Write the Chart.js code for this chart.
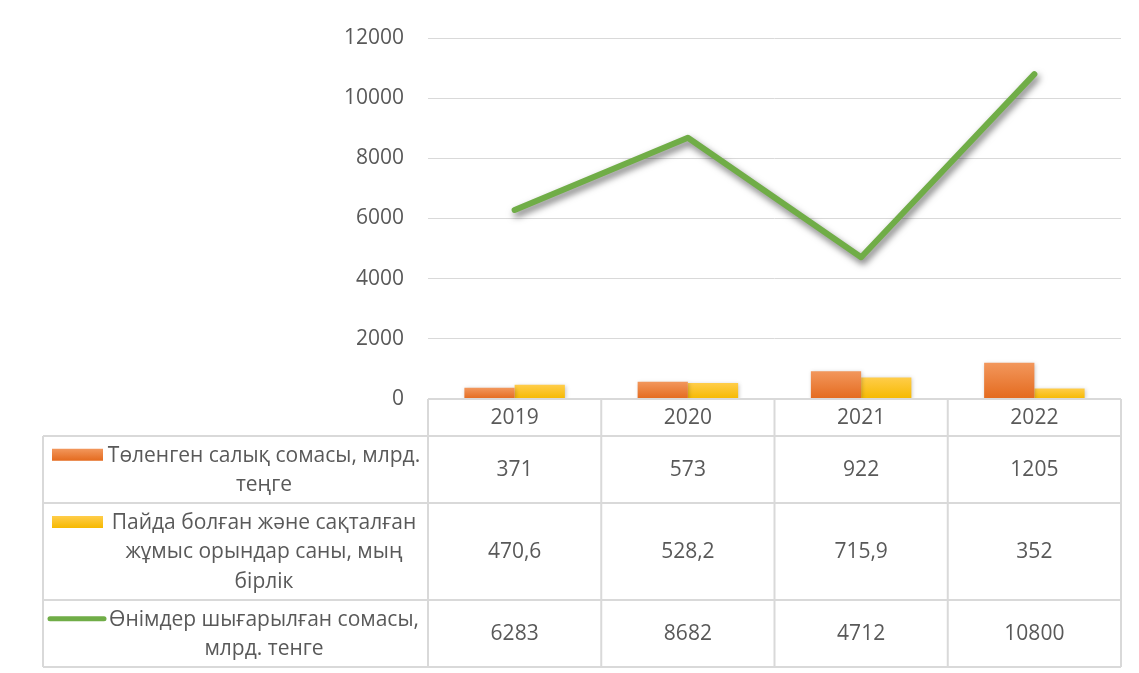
<!DOCTYPE html>
<html>
<head>
<meta charset="utf-8">
<script src="https://cdn.jsdelivr.net/npm/chart.js@4.4.1/dist/chart.umd.min.js"></script>
<style>
  html, body { margin: 0; padding: 0; background: #fff; }
  #wrap { width: 1139px; height: 673px; }
</style>
</head>
<body>
<div id="wrap"><canvas id="myChart" width="1139" height="673"></canvas></div>
<script>
// Chart data
const years = ['2019', '2020', '2021', '2022'];
const taxPaid = [371, 573, 922, 1205];
const jobsCreated = [470.6, 528.2, 715.9, 352];
const outputSum = [6283, 8682, 4712, 10800];
const seriesNames = [
    ['Төленген салық сомасы, млрд.', 'теңге'],
    ['Пайда болған және сақталған', 'жұмыс орындар саны, мың', 'бірлік'],
    ['Өнімдер шығарылған сомасы,', 'млрд. тенге']
];
const yTicks = [0, 2000, 4000, 6000, 8000, 10000, 12000];

const FONT = '"Open Sans", "DejaVu Sans", sans-serif';
const FONT_SIZE = 21;
const TEXT = '#595959';
const GRID = '#d9d9d9';

// vertical gradient for each bar, lighter on top
function barFill(top, bottom) {
    return function(c) {
        const chart = c.chart;
        if (!chart.chartArea || !c.parsed) return bottom;
        const y = chart.scales.y;
        const y0 = y.getPixelForValue(0);
        const y1 = y.getPixelForValue(c.parsed.y);
        const g = chart.ctx.createLinearGradient(0, y1, 0, y0);
        g.addColorStop(0, top);
        g.addColorStop(1, bottom);
        return g;
    };
}

// drop shadows like the office chart
const shadowPlugin = {
    id: 'shadows',
    beforeDatasetDraw(chart, args) {
        const ctx = chart.ctx;
        ctx.save();
        if (args.meta.type === 'line') {
            ctx.shadowColor = 'rgba(0,0,0,0.55)';
            ctx.shadowBlur = 7;
            ctx.shadowOffsetX = 2;
            ctx.shadowOffsetY = 4;
        } else {
            ctx.shadowColor = 'rgba(0,0,0,0.22)';
            ctx.shadowBlur = 4;
            ctx.shadowOffsetX = 1;
            ctx.shadowOffsetY = 1;
        }
    },
    afterDatasetDraw(chart) {
        chart.ctx.restore();
    }
};

// data table under the plot, columns follow the x scale
const tablePlugin = {
    id: 'dataTable',
    afterDraw(chart) {
        const ctx = chart.ctx;
        const x = chart.scales.x;
        const area = chart.chartArea;
        const left = 43;
        const rows = [area.bottom, 436, 503, 600, 667];
        const half = (x.getPixelForValue(1) - x.getPixelForValue(0)) / 2;
        const colEdges = [x.getPixelForValue(0) - half];
        years.forEach((_, i) => colEdges.push(x.getPixelForValue(i) + half));

        ctx.save();
        ctx.strokeStyle = GRID;
        ctx.lineWidth = 2;
        ctx.beginPath();
        // header top
        ctx.moveTo(colEdges[0], rows[0]);
        ctx.lineTo(colEdges[colEdges.length - 1], rows[0]);
        // row lines
        for (let r = 1; r < rows.length; r++) {
            ctx.moveTo(left, rows[r]);
            ctx.lineTo(colEdges[colEdges.length - 1], rows[r]);
        }
        // column lines
        colEdges.forEach(cx => {
            ctx.moveTo(cx, rows[0]);
            ctx.lineTo(cx, rows[rows.length - 1]);
        });
        ctx.moveTo(left, rows[1]);
        ctx.lineTo(left, rows[rows.length - 1]);
        ctx.stroke();

        ctx.fillStyle = TEXT;
        ctx.font = FONT_SIZE + 'px ' + FONT;
        ctx.textAlign = 'center';
        ctx.textBaseline = 'middle';

        // header with years
        years.forEach((yr, i) => {
            ctx.fillText(yr, x.getPixelForValue(i), (rows[0] + rows[1]) / 2 + 1);
        });

        // values
        const series = [taxPaid, jobsCreated, outputSum];
        series.forEach((vals, r) => {
            const cy = (rows[r + 1] + rows[r + 2]) / 2;
            vals.forEach((v, i) => {
                ctx.fillText(String(v).replace('.', ','), x.getPixelForValue(i), cy + 1);
            });
        });

        // row labels with legend keys
        const lineH = 29.5;
        const labelCx = 264;
        chart.data.datasets.forEach((ds, r) => {
            const lines = seriesNames[r];
            const cy = (rows[r + 1] + rows[r + 2]) / 2;
            const firstY = cy - (lines.length - 1) * lineH / 2;
            ctx.fillStyle = TEXT;
            lines.forEach((ln, k) => ctx.fillText(ln, labelCx, firstY + k * lineH + 1));
            if (ds.type === 'line') {
                ctx.strokeStyle = ds.borderColor;
                ctx.lineWidth = 5;
                ctx.lineCap = 'round';
                ctx.beginPath();
                ctx.moveTo(50, firstY);
                ctx.lineTo(104, firstY);
                ctx.stroke();
            } else {
                const g = ctx.createLinearGradient(0, firstY - 6, 0, firstY + 6);
                g.addColorStop(0, ds.keyTop);
                g.addColorStop(1, ds.keyBottom);
                ctx.fillStyle = g;
                ctx.fillRect(52, firstY - 6, 51, 12);
            }
        });
        ctx.restore();
    }
};

const ctx = document.getElementById('myChart').getContext('2d');

const myChart = new Chart(ctx, {
    type: 'bar',
    data: {
        labels: years,
        datasets: [{
            label: seriesNames[0].join(' '),
            data: taxPaid,
            backgroundColor: barFill('#f2975c', '#e46a1e'),
            keyTop: '#f2975c',
            keyBottom: '#e46a1e',
            order: 1
        }, {
            label: seriesNames[1].join(' '),
            data: jobsCreated,
            backgroundColor: barFill('#ffcd4a', '#f6b900'),
            keyTop: '#ffcd4a',
            keyBottom: '#f6b900',
            order: 1
        }, {
            type: 'line',
            label: seriesNames[2].join(' '),
            data: outputSum,
            borderColor: '#70ad47',
            borderWidth: 6,
            pointRadius: 0,
            tension: 0,
            borderCapStyle: 'round',
            borderJoinStyle: 'round',
            order: 0
        }]
    },
    options: {
        responsive: false,
        animation: false,
        layout: { padding: { top: 38, right: 18, bottom: 274, left: 0 } },
        categoryPercentage: 0.58,
        barPercentage: 1,
        plugins: {
            legend: { display: false },
            tooltip: { enabled: false }
        },
        scales: {
            x: {
                display: false,
                offset: true
            },
            y: {
                min: 0,
                max: 12000,
                afterBuildTicks: s => { s.ticks = yTicks.map(v => ({ value: v })); },
                afterFit: s => { s.width = 428; },
                border: { display: false },
                grid: { color: GRID, lineWidth: 1, drawTicks: false },
                ticks: {
                    color: TEXT,
                    padding: 24,
                    font: { family: FONT, size: FONT_SIZE },
                    callback: v => String(v)
                }
            }
        }
    },
    plugins: [shadowPlugin, tablePlugin]
});
</script>
</body>
</html>
